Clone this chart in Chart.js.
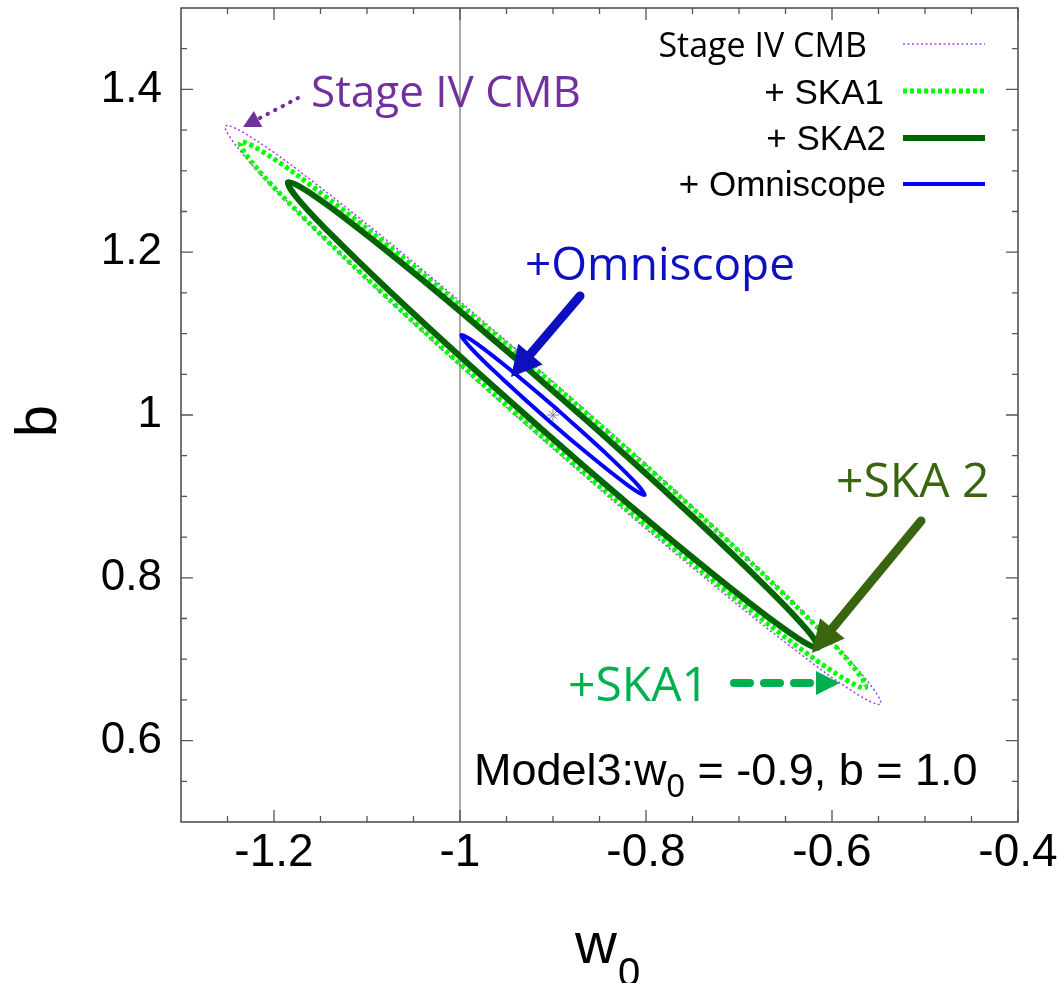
<!DOCTYPE html>
<html>
<head>
<meta charset="utf-8">
<script src="https://cdn.jsdelivr.net/npm/chart.js@4.4.1/dist/chart.umd.min.js"></script>
<style>
    html, body { margin: 0; padding: 0; background: #fff; }
    #wrap { width: 1064px; height: 983px; }
</style>
</head>
<body>
<div id="wrap"><canvas id="contourChart" width="1064" height="983"></canvas></div>
<script>
// axis ticks
const xMajorTicks = [-1.2, -1, -0.8, -0.6, -0.4];
const xTickLabels = ['-1.2', '-1', '-0.8', '-0.6', '-0.4'];
const xMinorTicks = [-1.25, -1.15, -1.1, -1.05, -0.95, -0.9, -0.85, -0.75, -0.7, -0.65, -0.55, -0.5, -0.45];
const yMajorTicks = [0.6, 0.8, 1, 1.2, 1.4];
const yTickLabels = ['0.6', '0.8', '1', '1.2', '1.4'];
const yMinorTicks = [0.55, 0.65, 0.7, 0.75, 0.85, 0.9, 0.95, 1.05, 1.1, 1.15, 1.25, 1.3, 1.35, 1.45];

// vertical reference line w0 = -1
const refW0 = [-1, -1];
const refB = [0.5, 1.5];

// fiducial point
const fidW0 = [-0.9];
const fidB = [1.0];

// Stage IV CMB contour
const cmbW0 = [-0.9410, -0.8186, -0.7062, -0.6172, -0.5621, -0.548, -0.5761, -0.6436, -0.7418, -0.8590,
               -0.9814, -1.0938, -1.1828, -1.2379, -1.252, -1.2239, -1.1564, -1.0582, -0.9410];
const cmbB = [1.0820, 0.9584, 0.8403, 0.7413, 0.6733, 0.645, 0.6593, 0.7149, 0.8047, 0.9180,
              1.0416, 1.1597, 1.2587, 1.3267, 1.355, 1.3407, 1.2851, 1.1953, 1.0820];

// + SKA1
const ska1W0 = [-0.9397, -0.8227, -0.7155, -0.6303, -0.5777, -0.564, -0.5907, -0.6549, -0.7485, -0.8603,
                -0.9773, -1.0845, -1.1697, -1.2223, -1.236, -1.2093, -1.1451, -1.0515, -0.9397];
const ska1B = [1.0771, 0.9605, 0.8490, 0.7557, 0.6916, 0.665, 0.6786, 0.7311, 0.8160, 0.9229,
               1.0395, 1.1510, 1.2443, 1.3084, 1.335, 1.3214, 1.2689, 1.1840, 1.0771];

// + SKA2
const ska2W0 = [-0.9350, -0.8358, -0.7447, -0.6722, -0.6270, -0.615, -0.6372, -0.6912, -0.7703, -0.8650,
                -0.9642, -1.0553, -1.1278, -1.1730, -1.185, -1.1628, -1.1088, -1.0297, -0.9350];
const ska2B = [1.0644, 0.9648, 0.8698, 0.7904, 0.7363, 0.714, 0.7261, 0.7714, 0.8442, 0.9356,
               1.0352, 1.1302, 1.2096, 1.2637, 1.286, 1.2739, 1.2286, 1.1558, 1.0644];

// + Omniscope
const omniW0 = [-0.8943, -0.8458, -0.8119, -0.8015, -0.8176, -0.8556, -0.9057, -0.9542, -0.9882, -0.9985, -0.9825, -0.9444, -0.8943];
const omniB = [1.0057, 0.9557, 0.9177, 0.9017, 0.9121, 0.9459, 0.9943, 1.0443, 1.0822, 1.0983, 1.0880, 1.0541, 1.0057];

const legendLabels = ['Stage IV CMB', '+ SKA1', '+ SKA2', '+ Omniscope'];

function toPoints(xs, ys) {
    return xs.map((x, i) => ({ x: x, y: ys[i] }));
}

const TICK_FONT = '"Liberation Sans", Arial, Helvetica, sans-serif';
const NOTE_FONT = '"Open Sans", "Noto Sans", sans-serif';

// arrow with triangular head
function drawArrow(c, x1, y1, x2, y2, color, width, headLen, headHalf, dash) {
    const ang = Math.atan2(y2 - y1, x2 - x1);
    const bx = x2 - Math.cos(ang) * headLen;
    const by = y2 - Math.sin(ang) * headLen;
    c.save();
    c.strokeStyle = color;
    c.fillStyle = color;
    c.lineWidth = width;
    c.lineCap = 'round';
    c.setLineDash(dash || []);
    c.beginPath();
    c.moveTo(x1, y1);
    c.lineTo(bx + Math.cos(ang) * 2, by + Math.sin(ang) * 2);
    c.stroke();
    c.setLineDash([]);
    c.beginPath();
    c.moveTo(x2, y2);
    c.lineTo(bx - Math.sin(ang) * headHalf, by + Math.cos(ang) * headHalf);
    c.lineTo(bx + Math.sin(ang) * headHalf, by - Math.cos(ang) * headHalf);
    c.closePath();
    c.fill();
    c.restore();
}

const framePlugin = {
    id: 'framePlugin',
    afterDraw(chart) {
        const c = chart.ctx;
        const a = chart.chartArea;
        const xs = chart.scales.x;
        const ys = chart.scales.y;

        // frame
        c.save();
        c.strokeStyle = '#2a2a2a';
        c.lineWidth = 1.3;
        c.strokeRect(a.left, a.top, a.right - a.left, a.bottom - a.top);

        // inward ticks on all four sides
        c.strokeStyle = '#555';
        c.lineWidth = 1.3;
        c.beginPath();
        function xt(v, len) {
            const p = xs.getPixelForValue(v);
            c.moveTo(p, a.bottom); c.lineTo(p, a.bottom - len);
            c.moveTo(p, a.top); c.lineTo(p, a.top + len);
        }
        function yt(v, len) {
            const p = ys.getPixelForValue(v);
            c.moveTo(a.left, p); c.lineTo(a.left + len, p);
            c.moveTo(a.right, p); c.lineTo(a.right - len, p);
        }
        xMajorTicks.forEach(v => xt(v, 12));
        xMinorTicks.forEach(v => xt(v, 6));
        yMajorTicks.forEach(v => yt(v, 12));
        yMinorTicks.forEach(v => yt(v, 6));
        c.stroke();
        c.restore();

        // axis titles
        c.save();
        c.fillStyle = '#000';
        c.font = '58px ' + TICK_FONT;
        c.translate(56, 421);
        c.rotate(-Math.PI / 2);
        c.textAlign = 'center';
        c.fillText('b', 0, 0);
        c.restore();

        c.save();
        c.fillStyle = '#000';
        c.font = '58px ' + TICK_FONT;
        c.fillText('w', 575, 963);
        c.font = '40px ' + TICK_FONT;
        c.fillText('0', 618, 986);
        c.restore();

        // model text
        c.save();
        c.fillStyle = '#000';
        c.font = '45px ' + TICK_FONT;
        let tx = 474;
        c.fillText('Model3:w', tx, 785);
        tx += c.measureText('Model3:w').width;
        c.font = '33px ' + TICK_FONT;
        c.fillText('0', tx, 797);
        tx += c.measureText('0').width;
        c.font = '45px ' + TICK_FONT;
        c.fillText(' = -0.9, b = 1.0', tx, 785);
        c.restore();

        // legend
        c.save();
        c.textAlign = 'right';
        c.fillStyle = '#000';
        c.font = '34px ' + NOTE_FONT;
        c.fillText(legendLabels[0], 867, 57);
        c.font = '35px ' + TICK_FONT;
        c.fillText(legendLabels[1], 884, 104);
        c.fillText(legendLabels[2], 886, 150);
        c.fillText(legendLabels[3], 886, 196);
        const samples = chart.data.datasets.slice(2, 6);
        const sy = [44, 91, 138, 184];
        samples.forEach((ds, i) => {
            c.beginPath();
            c.strokeStyle = ds.borderColor;
            c.lineWidth = ds.borderWidth;
            c.setLineDash(ds.borderDash || []);
            c.moveTo(903, sy[i]);
            c.lineTo(985, sy[i]);
            c.stroke();
        });
        c.restore();

        // annotations
        c.save();
        c.font = '44px ' + NOTE_FONT;
        c.fillStyle = '#7030a0';
        c.fillText('Stage IV CMB', 311, 107);
        c.font = '46px ' + NOTE_FONT;
        c.fillStyle = '#0f0fc2';
        c.fillText('+Omniscope', 525, 280);
        c.font = '48px ' + NOTE_FONT;
        c.fillStyle = '#3a6510';
        c.fillText('+SKA 2', 836, 497);
        c.fillStyle = '#00b050';
        c.fillText('+SKA1', 568, 701);
        c.restore();

        drawArrow(c, 298, 98, 243, 127, '#7030a0', 4, 17, 9, [0.5, 8]);
        drawArrow(c, 580, 296, 511, 377, '#0f0fc2', 9, 30, 16);
        drawArrow(c, 921, 521, 812, 653, '#3a6510', 9, 32, 16);
        drawArrow(c, 734, 683, 840, 683, '#00b050', 8, 24, 12, [16, 14]);
    }
};

const ctx = document.getElementById('contourChart').getContext('2d');
const contourChart = new Chart(ctx, {
    type: 'scatter',
    data: {
        datasets: [
            {
                label: 'w0 = -1',
                data: toPoints(refW0, refB),
                showLine: true,
                borderColor: '#8c8c8c',
                borderWidth: 1.5,
                pointRadius: 0,
                order: 7
            },
            {
                label: 'fiducial',
                data: toPoints(fidW0, fidB),
                pointStyle: 'star',
                pointRadius: 6,
                borderColor: '#888',
                borderWidth: 1,
                order: 6
            },
            {
                label: legendLabels[0],
                data: toPoints(cmbW0, cmbB),
                showLine: true,
                borderColor: '#a83cf0',
                borderWidth: 1.5,
                borderDash: [2, 2.5],
                pointRadius: 0,
                tension: 0.4,
                order: 5
            },
            {
                label: legendLabels[1],
                data: toPoints(ska1W0, ska1B),
                showLine: true,
                borderColor: '#00ff00',
                borderWidth: 5,
                borderDash: [4, 3],
                pointRadius: 0,
                tension: 0.4,
                order: 4
            },
            {
                label: legendLabels[2],
                data: toPoints(ska2W0, ska2B),
                showLine: true,
                borderColor: '#006400',
                borderWidth: 6,
                pointRadius: 0,
                tension: 0.4,
                order: 3
            },
            {
                label: legendLabels[3],
                data: toPoints(omniW0, omniB),
                showLine: true,
                borderColor: '#0000ff',
                borderWidth: 4,
                pointRadius: 0,
                tension: 0.4,
                order: 2
            }
        ]
    },
    options: {
        responsive: false,
        animation: false,
        layout: { padding: { top: 8, right: 46, left: 0, bottom: 0 } },
        plugins: {
            legend: { display: false },
            tooltip: { enabled: false }
        },
        scales: {
            x: {
                type: 'linear',
                min: -1.3,
                max: -0.4,
                grid: { display: false, drawTicks: false },
                border: { display: false },
                afterBuildTicks: s => { s.ticks = xMajorTicks.map(v => ({ value: v })); },
                afterFit: s => { s.height = 161; s.paddingLeft = 0; s.paddingRight = 0; },
                ticks: {
                    autoSkip: false,
                    maxRotation: 0,
                    padding: 4,
                    color: '#000',
                    font: { size: 46, family: TICK_FONT },
                    callback: (v, i) => xTickLabels[i]
                }
            },
            y: {
                type: 'linear',
                min: 0.5,
                max: 1.5,
                grid: { display: false, drawTicks: false },
                border: { display: false },
                afterBuildTicks: s => { s.ticks = yMajorTicks.map(v => ({ value: v })); },
                afterFit: s => { s.width = 181; s.paddingTop = 0; s.paddingBottom = 0; },
                ticks: {
                    autoSkip: false,
                    padding: 19,
                    color: '#000',
                    font: { size: 44, family: TICK_FONT },
                    callback: (v, i) => yTickLabels[i]
                }
            }
        }
    },
    plugins: [framePlugin]
});
</script>
</body>
</html>
